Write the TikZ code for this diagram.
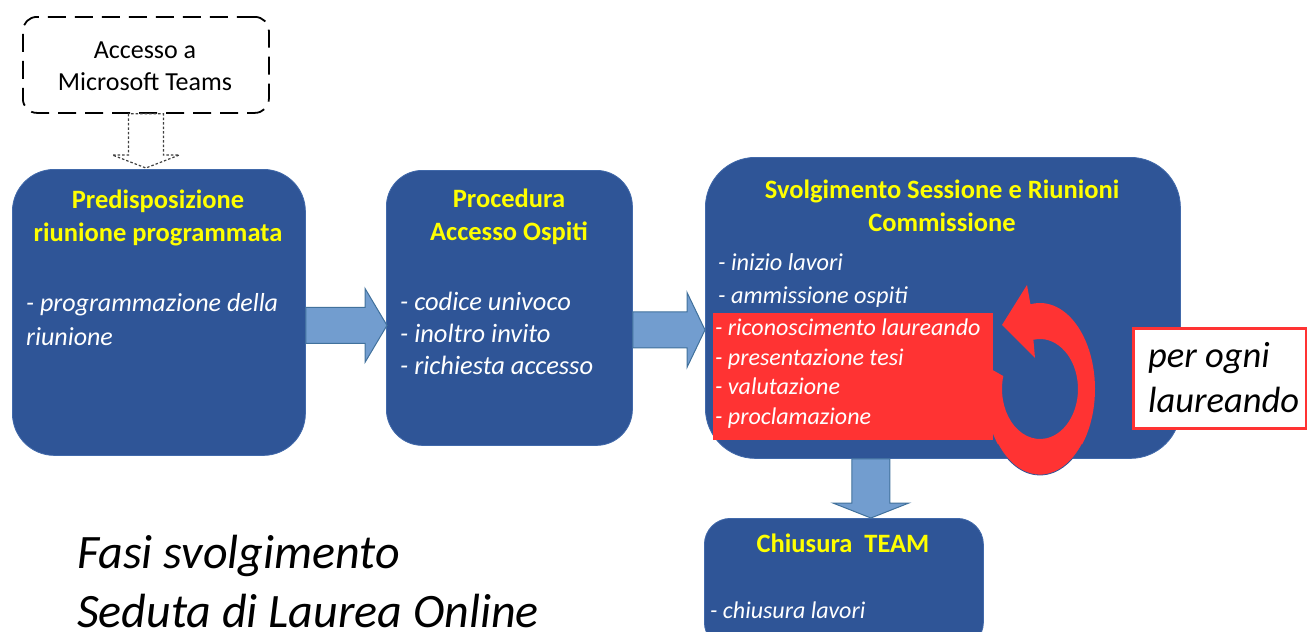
\documentclass[tikz,border=0pt]{standalone}
\usepackage{fontspec}
\setmainfont{Carlito}
\usetikzlibrary{calc}
\definecolor{boxblue}{RGB}{47,85,151}
\definecolor{boxedge}{RGB}{65,105,170}
\definecolor{arrfill}{RGB}{114,157,207}
\definecolor{arredge}{RGB}{65,113,156}
\definecolor{ttlyellow}{RGB}{255,255,0}
\definecolor{hlred}{RGB}{255,51,51}
\definecolor{dotgray}{RGB}{64,64,64}
\newcommand{\setfs}[2]{\fontsize{#1}{#2}\selectfont}
% horizontal block arrow: #1 start, #2 end (x only), #3 shaft half, #4 head half, #5 head length, #6 style
\newcommand{\hblockarrow}[6]{%
  \path[#6] let \p1=#1, \p2=#2 in
    (\x1,\y1+#3) -- (\x2-#5,\y1+#3) -- (\x2-#5,\y1+#4) -- (\x2,\y1)
    -- (\x2-#5,\y1-#4) -- (\x2-#5,\y1-#3) -- (\x1,\y1-#3) -- cycle;}
% vertical (downward) block arrow: #1 start, #2 end (y only)
\newcommand{\vblockarrow}[6]{%
  \path[#6] let \p1=#1, \p2=#2 in
    (\x1-#3,\y1) -- (\x1-#3,\y2+#5) -- (\x1-#4,\y2+#5) -- (\x1,\y2)
    -- (\x1+#4,\y2+#5) -- (\x1+#3,\y2+#5) -- (\x1+#3,\y1) -- cycle;}
\begin{document}
\begin{tikzpicture}[x=1pt,y=-1pt,
  phase/.style={draw=boxedge, line width=0.8pt, fill=boxblue, inner sep=0pt, anchor=north west},
  title/.style={text=ttlyellow, font=\bfseries\setfs{26.5}{33}, align=center, inner sep=0pt},
  item/.style={text=white, font=\itshape\setfs{26}{34}, align=left, anchor=west, inner sep=0pt},
  barrow/.style={fill=arrfill, draw=arredge, line width=1pt, line join=miter},
  dotarrow/.style={fill=white, draw=dotgray, line width=1.2pt, dash pattern=on 2.5pt off 2pt},
  access/.style={draw=black, fill=white, line width=1.8pt, dash pattern=on 18pt off 9pt, rounded corners=14pt, inner sep=0pt, anchor=north west}
]
\useasboundingbox (0,0) rectangle (1307,632);

% boxes
\node[access, minimum width=246, minimum height=96] (acc) at (22,16) {};
\node[phase, rounded corners=42pt, minimum width=293, minimum height=286] (b1) at (12,169) {};
\node[phase, rounded corners=36pt, minimum width=246, minimum height=275] (b2) at (386,170) {};
\node[phase, rounded corners=50pt, minimum width=475, minimum height=301] (b3) at (705,157) {};
\node[phase, rounded corners=26pt, minimum width=279, minimum height=130] (b4) at (704,518) {};
\node[fill=hlred, inner sep=0pt, anchor=north west, minimum width=280, minimum height=127] (hl) at (713,313) {};
\node[draw=hlred, fill=white, line width=3pt, inner sep=0pt, anchor=north west, minimum width=173, minimum height=100] (pob) at (1132,327) {};

% loop arrow
\coordinate (loopc) at (1040,389);
\fill[hlred] ($(loopc)+(195:55 and 86)$) arc[start angle=195, end angle=-100, x radius=55, y radius=86]
  -- ($(loopc)+(-13,-104)$) -- ($(loopc)+(-38,-64)$) -- ($(loopc)+(-5,-31)$)
  -- ($(loopc)+(-100:38 and 50)$) arc[start angle=-100, end angle=195, x radius=38, y radius=50] -- cycle;
\draw[boxblue, line width=0.8pt] ($(loopc)+(140:55 and 86)$) arc[start angle=140, end angle=40, x radius=55, y radius=86];

% connectors
\vblockarrow{(acc.south)}{($(b1.north)+(0,-1)$)}{17.5pt}{33.5pt}{13pt}{dotarrow}
\hblockarrow{($(b1.east)+(0,13)$)}{($(b2.west)+(1,0)$)}{18pt}{37pt}{22pt}{barrow}
\hblockarrow{($(b2.east)+(0,22)$)}{(b3.west)}{18pt}{37.5pt}{18pt}{barrow}
\vblockarrow{($(b3.south)+(-72,0)$)}{(b4.north)}{19pt}{38pt}{15pt}{barrow}

% texts
\node[font=\setfs{26}{32}, align=center, inner sep=0pt] (acct) at (145,66) {Accesso a\\Microsoft Teams};
\node[title] (t1) at (158,218) {Predisposizione\\riunione programmata};
\node[item] (i1) at (26,320) {- programmazione della\\riunione};
\node[title] (t2) at (509,216.5) {Procedura\\Accesso Ospiti};
\node[item, font=\itshape\setfs{26.5}{32}] (i2) at (400,333) {- codice univoco\\- inoltro invito\\- richiesta accesso};
\node[title] (t3) at (942,205.5) {Svolgimento Sessione e Riunioni\\Commissione};
\node[item, font=\itshape\setfs{24.3}{30}] (i3a) at (718,262) {- inizio lavori};
\node[item, font=\itshape\setfs{24.3}{30}] (i3b) at (718,297) {- ammissione ospiti};
\node[item, font=\itshape\setfs{24}{29.5}] (i3c) at (715,373.5) {- riconoscimento laureando\\- presentazione tesi\\- valutazione\\- proclamazione};
\node[title] (t4) at (843,543) {Chiusura\ \ TEAM};
\node[item, font=\itshape\setfs{24}{30}] (i4) at (710,610) {- chiusura lavori};
\node[font=\itshape\setfs{36.5}{45}, align=left, anchor=west, inner sep=0pt] (pot) at (1148,377.5) {per ogni\\laureando};
\node[font=\itshape\setfs{48}{59}, align=left, anchor=west, inner sep=0pt] (fasi) at (77,582) {Fasi svolgimento\\Seduta di Laurea Online};
\end{tikzpicture}
\end{document}
